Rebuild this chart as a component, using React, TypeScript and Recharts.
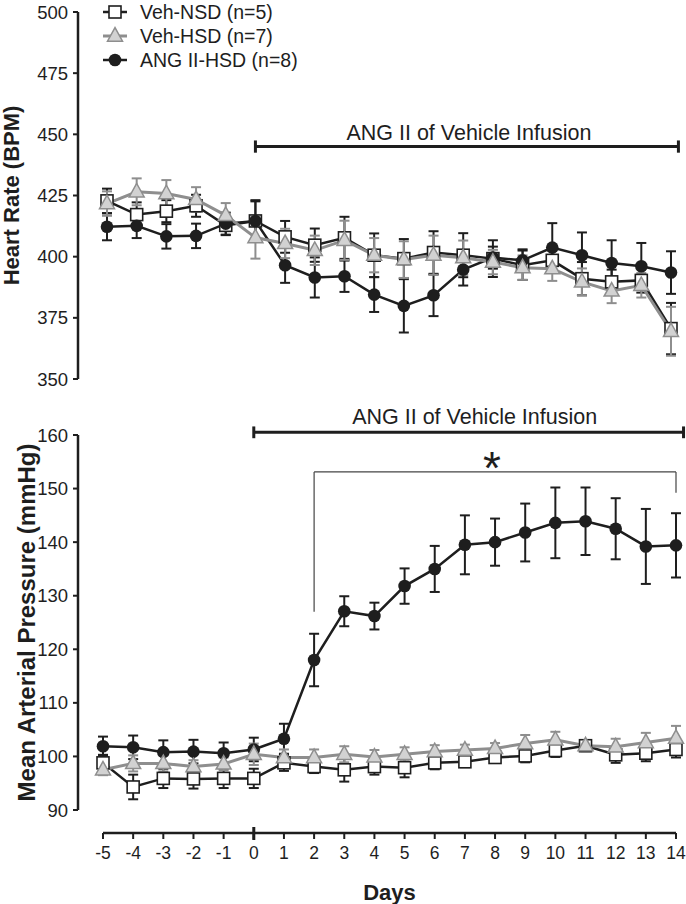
import React from "react";
import { LineChart, Line, XAxis, YAxis, ErrorBar, ReferenceLine, Legend } from "recharts";

const days = [-5, -4, -3, -2, -1, 0, 1, 2, 3, 4, 5, 6, 7, 8, 9, 10, 11, 12, 13, 14];

// heart rate (BPM), mean +/- SEM
const hrNsd = [422.8, 417.2, 418.6, 420.8, 412.8, 414.6, 408.1, 404.7, 407.7, 400.6, 399.2, 401.7, 400.6, 399.2, 396.5, 398.5, 391.0, 389.7, 390.3, 370.6];
const hrNsdSem = [5, 5, 4.5, 4.5, 4, 8, 6.5, 6.8, 8.6, 8.9, 8, 8.7, 9, 7.5, 6, 4, 6.8, 5, 5, 10.5];
const hrHsd = [421.7, 426.5, 425.8, 423.4, 416.9, 407.8, 405.4, 402.6, 406.7, 400.6, 398.8, 400.6, 399.6, 397.8, 395.5, 395.1, 389.7, 386.0, 388.3, 369.5];
const hrHsdSem = [5, 5.5, 5.5, 5, 5, 8.6, 6, 6, 8, 7, 7.5, 8, 7, 5, 5, 5, 5.5, 5, 5, 10];
const hrAng = [412.2, 412.6, 408.3, 408.5, 413.5, 414.6, 396.5, 391.5, 392.0, 384.5, 379.9, 384.2, 394.7, 399.6, 398.5, 403.7, 400.6, 397.4, 396.1, 393.5];
const hrAngSem = [5.5, 5, 5, 5, 4.5, 8.5, 7.2, 8.2, 6.4, 7.1, 10.9, 8.5, 6.5, 4.5, 4.5, 10, 9.3, 9.3, 9.5, 8.7];

// mean arterial pressure (mmHg)
const mapNsd = [98.8, 94.3, 95.9, 95.8, 95.9, 95.9, 98.8, 98.1, 97.5, 98.1, 97.9, 98.8, 99.0, 99.8, 100.1, 101.1, 102.0, 100.3, 100.6, 101.3];
const mapNsdSem = [1.5, 2.3, 1.8, 1.8, 1.8, 1.8, 1.5, 1.2, 2.2, 1.5, 1.8, 1.2, 1, 1, 1.2, 1.2, 1, 1.5, 1.5, 1.5];
const mapHsd = [97.5, 98.7, 98.7, 98.1, 98.6, 100.4, 99.8, 99.8, 100.4, 99.9, 100.4, 100.9, 101.2, 101.5, 102.4, 103.1, 102.0, 101.8, 102.6, 103.4];
const mapHsdSem = [1, 1.5, 1.5, 1.2, 1.2, 2, 1.5, 1.5, 1.5, 1.3, 1.3, 1.2, 1, 1, 1.6, 1.5, 1, 1.5, 1.8, 2.3];
const mapAng = [101.9, 101.7, 100.8, 100.9, 100.6, 101.3, 103.3, 118.0, 127.1, 126.2, 131.8, 135.0, 139.5, 140.0, 141.8, 143.6, 143.9, 142.5, 139.2, 139.4];
const mapAngSem = [1.8, 2.2, 2.2, 2.2, 2, 2.2, 2.8, 4.9, 2.8, 2.5, 3.3, 4.3, 5.5, 4.4, 5.4, 6.6, 6.3, 5.7, 7, 6];

const hrTicks = [350, 375, 400, 425, 450, 475, 500];
const mapTicks = [90, 100, 110, 120, 130, 140, 150, 160];

const seriesNames = ["Veh-NSD (n=5)", "Veh-HSD (n=7)", "ANG II-HSD (n=8)"];
const infusionText = "ANG II of Vehicle Infusion";
// infusion bracket (days) and significance bracket
const infusion = [0, 14.25];
const sigDays = [2, 14];

const hrData = days.map((d, i) => ({
  day: d,
  nsd: hrNsd[i], nsdErr: hrNsdSem[i],
  hsd: hrHsd[i], hsdErr: hrHsdSem[i],
  ang: hrAng[i], angErr: hrAngSem[i],
}));
const mapData = days.map((d, i) => ({
  day: d,
  nsd: mapNsd[i], nsdErr: mapNsdSem[i],
  hsd: mapHsd[i], hsdErr: mapHsdSem[i],
  ang: mapAng[i], angErr: mapAngSem[i],
}));

const BLACK = "#1e1e1e";
const GRAY = "#8e8e8e";
const LIGHT = "#d2d2d2";
const FONT = "'Liberation Sans', Arial, Helvetica, sans-serif";

function SquareDot(props: any) {
  const { cx, cy, s = 12 } = props;
  if (cx == null || cy == null) return <g />;
  return <rect x={cx - s / 2} y={cy - s / 2} width={s} height={s} fill="#fff" stroke={BLACK} strokeWidth={1.6} />;
}

function TriangleDot(props: any) {
  const { cx, cy, s = 15 } = props;
  if (cx == null || cy == null) return <g />;
  const h = s * 0.9;
  const pts = `${cx},${cy - h * 0.62} ${cx - s / 2},${cy + h * 0.38} ${cx + s / 2},${cy + h * 0.38}`;
  return <polygon points={pts} fill={LIGHT} stroke={GRAY} strokeWidth={1.5} />;
}

function AxisTitle(props: any) {
  const { viewBox, text, baseX, size } = props;
  const cy = viewBox.y + viewBox.height / 2;
  return (
    <text x={baseX} y={cy} transform={`rotate(-90 ${baseX} ${cy})`} textAnchor="middle"
      fontSize={size} fontWeight="bold" fill={BLACK}>
      {text}
    </text>
  );
}

function BracketText(props: any) {
  const { viewBox, text, size, lift, shift = 0 } = props;
  const vb = viewBox || {};
  const x = vb.x1 != null ? (vb.x1 + vb.x2) / 2 : vb.x + vb.width / 2;
  const y = vb.y1 != null ? vb.y1 : vb.y;
  return (
    <text x={x + shift} y={y - lift} textAnchor="middle" fontSize={size} fill={BLACK}>
      {text}
    </text>
  );
}

function LegendBox() {
  const row = (icon: React.ReactNode, label: string) => (
    <div style={{ display: "flex", alignItems: "center", height: 24 }}>
      <svg width={39} height={24}>
        {icon}
      </svg>
      <span style={{ fontSize: 19.5, color: BLACK, lineHeight: "24px" }}>{label}</span>
    </div>
  );
  return (
    <div style={{ fontFamily: FONT }}>
      {row(<g><line x1={2} x2={26} y1={12} y2={12} stroke={BLACK} strokeWidth={2.5} /><SquareDot cx={14} cy={12} /></g>, seriesNames[0])}
      {row(<g><line x1={2} x2={26} y1={12} y2={12} stroke={GRAY} strokeWidth={3} /><TriangleDot cx={14} cy={12} /></g>, seriesNames[1])}
      {row(<g><line x1={2} x2={26} y1={12} y2={12} stroke={BLACK} strokeWidth={2.5} /><circle cx={14} cy={12} r={6.3} fill={BLACK} /></g>, seriesNames[2])}
    </div>
  );
}

function DayTick(props: any) {
  const { x, y, payload } = props;
  return (
    <g>
      <text x={x} y={y} dy="0.71em" textAnchor="middle" fontSize={17.5} fill={BLACK}>{payload.value}</text>
      {payload.value === 0 && <line x1={x} x2={x} y1={y - 20} y2={y - 7} stroke={BLACK} strokeWidth={3} />}
    </g>
  );
}

function seriesLines(width: number) {
  return [
    <Line key="nsd" type="linear" dataKey="nsd" name={seriesNames[0]} stroke={BLACK} strokeWidth={width}
      dot={(p: any) => <SquareDot key={p.key} {...p} />} activeDot={false} isAnimationActive={false}>
      <ErrorBar dataKey="nsdErr" direction="y" width={5} stroke={BLACK} strokeWidth={2} />
    </Line>,
    <Line key="ang" type="linear" dataKey="ang" name={seriesNames[2]} stroke={BLACK} strokeWidth={width}
      dot={{ r: 6.3, fill: BLACK, stroke: BLACK, strokeWidth: 0 }} activeDot={false} isAnimationActive={false}>
      <ErrorBar dataKey="angErr" direction="y" width={5} stroke={BLACK} strokeWidth={2} />
    </Line>,
    <Line key="hsd" type="linear" dataKey="hsd" name={seriesNames[1]} stroke={GRAY} strokeWidth={width + 0.5}
      dot={(p: any) => <TriangleDot key={p.key} {...p} />} activeDot={false} isAnimationActive={false}>
      <ErrorBar dataKey="hsdErr" direction="y" width={5} stroke={GRAY} strokeWidth={2} />
    </Line>,
  ];
}

const axisLine = { stroke: BLACK, strokeWidth: 2.5 };
const tickLine = { stroke: BLACK, strokeWidth: 2 };

export default function App() {
  return (
    <div style={{ position: "absolute", left: 0, top: 0, width: 686, height: 904, background: "#fff", fontFamily: FONT }}>
      <div style={{ position: "absolute", left: 0, top: 0 }}>
        <LineChart width={686} height={400} data={hrData} margin={{ top: 12, right: 10, bottom: 21, left: 0 }}>
          <XAxis dataKey="day" type="number" domain={[-5, 14]} hide padding={{ left: 29, right: 5 }} />
          <YAxis type="number" domain={[350, 500]} ticks={hrTicks} interval={0} width={78} allowDataOverflow
            tickSize={5} tickMargin={5} tick={{ fontSize: 18.5, fill: BLACK }} axisLine={axisLine} tickLine={tickLine}
            label={<AxisTitle text="Heart Rate (BPM)" baseX={19} size={22} />} />
          <Legend verticalAlign="middle" align="center" layout="horizontal" content={<LegendBox />}
            wrapperStyle={{ top: 0, left: 101, width: 260, height: 74 }} />
          <ReferenceLine segment={[{ x: infusion[0], y: 445 }, { x: infusion[1], y: 445 }]} stroke={BLACK} strokeWidth={3}
            ifOverflow="visible" label={<BracketText text={infusionText} size={21.5} lift={7} shift={2} />} />
          <ReferenceLine segment={[{ x: infusion[0], y: 442.5 }, { x: infusion[0], y: 447.5 }]} stroke={BLACK} strokeWidth={3} ifOverflow="visible" />
          <ReferenceLine segment={[{ x: infusion[1], y: 442.5 }, { x: infusion[1], y: 447.5 }]} stroke={BLACK} strokeWidth={3} ifOverflow="visible" />
          {seriesLines(2.5)}
        </LineChart>
      </div>

      <div style={{ position: "absolute", left: 0, top: 395 }}>
        <LineChart width={686} height={425} data={mapData} margin={{ top: 40, right: 10, bottom: 10, left: 0 }}>
          <XAxis dataKey="day" type="number" domain={[-5, 14]} hide padding={{ left: 25, right: 0 }} />
          <YAxis type="number" domain={[90, 160]} ticks={mapTicks} interval={0} width={78} allowDataOverflow
            tickSize={5} tickMargin={5} tick={{ fontSize: 18.5, fill: BLACK }} axisLine={axisLine} tickLine={tickLine}
            label={<AxisTitle text="Mean Arterial Pressure (mmHg)" baseX={35} size={24} />} />
          <ReferenceLine segment={[{ x: infusion[0], y: 160.5 }, { x: infusion[1], y: 160.5 }]} stroke={BLACK} strokeWidth={3}
            ifOverflow="visible" label={<BracketText text={infusionText} size={21.5} lift={8} shift={6} />} />
          <ReferenceLine segment={[{ x: infusion[0], y: 159.4 }, { x: infusion[0], y: 161.6 }]} stroke={BLACK} strokeWidth={3} ifOverflow="visible" />
          <ReferenceLine segment={[{ x: infusion[1], y: 159.4 }, { x: infusion[1], y: 161.6 }]} stroke={BLACK} strokeWidth={3} ifOverflow="visible" />
          <ReferenceLine segment={[{ x: sigDays[0], y: 153.1 }, { x: sigDays[1], y: 153.1 }]} stroke="#444" strokeWidth={1.2}
            ifOverflow="visible" label={<BracketText text="*" size={46} lift={-12} shift={-3} />} />
          <ReferenceLine segment={[{ x: sigDays[0], y: 127 }, { x: sigDays[0], y: 153.1 }]} stroke="#444" strokeWidth={1.2} ifOverflow="visible" />
          <ReferenceLine segment={[{ x: sigDays[1], y: 149.2 }, { x: sigDays[1], y: 153.1 }]} stroke="#444" strokeWidth={1.2} ifOverflow="visible" />
          {seriesLines(2.5)}
        </LineChart>
      </div>

      <div style={{ position: "absolute", left: 0, top: 813 }}>
        <LineChart width={686} height={91} data={mapData} margin={{ top: 0, right: 10, bottom: 0, left: 103 }}>
          <XAxis dataKey="day" type="number" domain={[-5, 14]} ticks={days} interval={0} height={71}
            tickSize={6} tickMargin={8} tick={<DayTick />} axisLine={axisLine} tickLine={tickLine}
            label={{ value: "Days", position: "insideBottom", offset: 4, fontSize: 22, fontWeight: "bold", fill: BLACK }} />
          <YAxis hide domain={[0, 1]} />
        </LineChart>
      </div>
    </div>
  );
}
